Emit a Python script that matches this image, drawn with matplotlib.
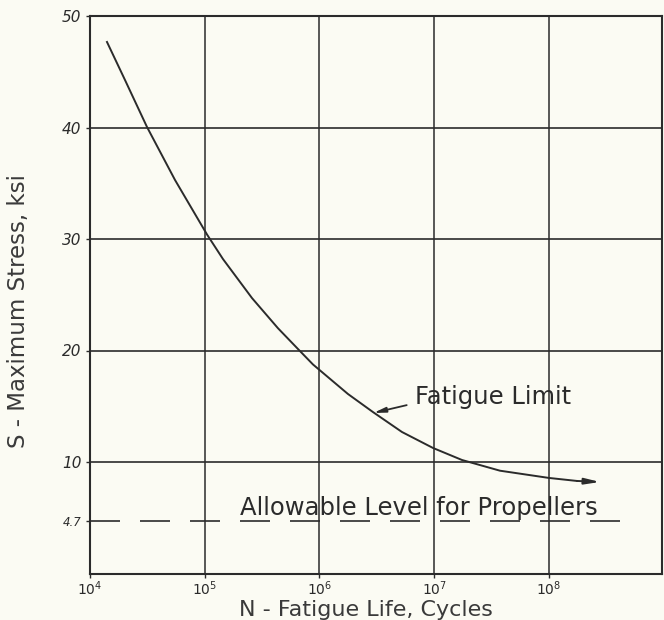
import matplotlib
matplotlib.use("Agg")
import matplotlib.pyplot as plt
import numpy as np

# values (log10 of cycles, ksi)
curve_logN = [4.148, 4.305, 4.497, 4.741, 5.02, 5.159, 5.412, 5.638, 5.813, 5.943,
              6.248, 6.466, 6.719, 6.989, 7.242, 7.573, 8.00, 8.244, 8.444]
curve_S = [47.67, 44.26, 40.04, 35.29, 30.4, 28.2, 24.7, 22.0, 20.13, 18.75,
           16.1, 14.48, 12.69, 11.26, 10.18, 9.22, 8.57, 8.30, 8.21]

allowable = 4.7
allowable_end = 8.7

y_ticks = [10, 20, 30, 40, 50]
x_exps = [4, 5, 6, 7, 8]

ink = '#2b2b2b'
paper = '#fbfbf3'

plt.rcParams['font.family'] = ['DejaVu Sans']
plt.rcParams['mathtext.default'] = 'it'

fig = plt.figure(figsize=(6.64, 6.2), dpi=100, facecolor=paper)
ax = fig.add_axes([90 / 664, 46.5 / 620, 572 / 664, 557.5 / 620])
ax.set_facecolor(paper)

ax.set_xscale('log')
ax.set_xlim(1e4, 10 ** 8.985)
ax.set_ylim(0, 50)

# grid
for e in x_exps[1:]:
    ax.axvline(10 ** e, color=ink, lw=1.1, zorder=1)
for v in y_ticks[:-1]:
    ax.axhline(v, color=ink, lw=1.2, zorder=1)

for s in ax.spines.values():
    s.set_color(ink)
    s.set_linewidth(1.5)

# S-N curve
N = 10 ** np.array(curve_logN)
ax.plot(N[:-1], curve_S[:-1], color=ink, lw=1.4, zorder=3, solid_joinstyle='round')
ax.annotate('', xy=(N[-1], curve_S[-1]), xytext=(N[-2], curve_S[-2]),
            arrowprops=dict(arrowstyle='-|>,head_length=0.9,head_width=0.18',
                            color=ink, lw=1.4, shrinkA=0, shrinkB=0), zorder=3)

# allowable level
ax.plot([1e4, 10 ** allowable_end], [allowable, allowable], color=ink, lw=1.2,
        dashes=(18, 12), zorder=2)

ax.text(10 ** 5.31, 5.9, 'Allowable Level for Propellers', fontsize=17.5,
        color=ink, va='center', ha='left')
ax.text(10 ** 6.83, 15.8, 'Fatigue Limit', fontsize=17.5, color=ink,
        va='center', ha='left')
ax.annotate('', xy=(10 ** 6.47, 14.4), xytext=(10 ** 6.76, 15.1),
            arrowprops=dict(arrowstyle='-|>,head_length=0.7,head_width=0.15',
                            color=ink, lw=1.3, shrinkA=0, shrinkB=0))

# ticks
ax.set_yticks(y_ticks + [allowable])
ax.set_yticklabels([str(v) for v in y_ticks] + ['4.7'])
ax.set_xticks([10 ** e for e in x_exps])
ax.set_xticklabels(['$10^{%d}$' % e for e in x_exps])
ax.minorticks_off()
ax.tick_params(axis='both', colors=ink, length=3, width=1, labelsize=11)
ax.tick_params(axis='x', pad=1, labelsize=10)
ax.tick_params(axis='y', pad=3)
for lab in ax.get_yticklabels() + ax.get_xticklabels():
    lab.set_fontstyle('italic')
ax.get_yticklabels()[-1].set_fontsize(8.5)

ax.set_xlabel('N - Fatigue Life, Cycles', fontsize=16, color='#3a3a3a', va='center')
ax.xaxis.set_label_coords((366 - 90) / 572, (573.5 - 609.5) / 557.5)
ax.set_ylabel('S - Maximum Stress, ksi', fontsize=16.5, color='#3a3a3a', va='center')
ax.yaxis.set_label_coords((19 - 90) / 572, (573.5 - 311) / 557.5)

fig.savefig('out.png', dpi=100, facecolor=paper)
